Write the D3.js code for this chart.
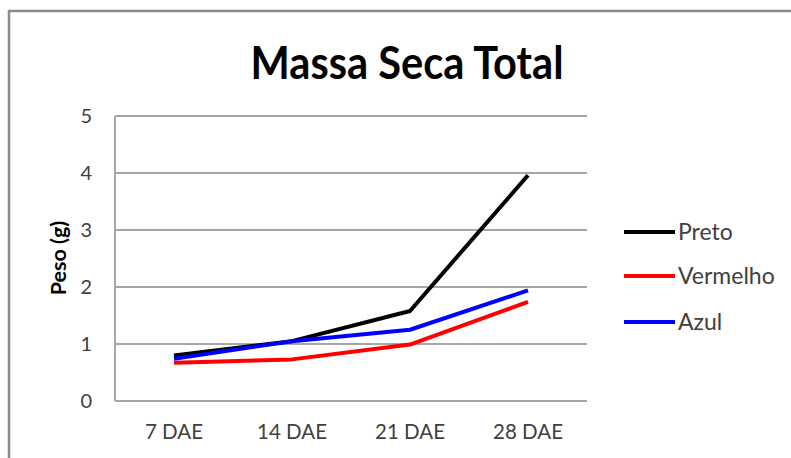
<!DOCTYPE html>
<html><head><meta charset="utf-8">
<script src="https://cdn.jsdelivr.net/npm/d3@7"></script>
<style>body{margin:0;background:#fff}svg{display:block}text{font-family:Lato,"Open Sans",sans-serif}</style>
</head><body>
<script>
const categories = ["7 DAE","14 DAE","21 DAE","28 DAE"];
const preto = [0.8, 1.05, 1.58, 3.96];
const vermelho = [0.67, 0.73, 0.99, 1.74];
const azul = [0.74, 1.05, 1.25, 1.94];
const seriesNames = ["Preto","Vermelho","Azul"];
const seriesColors = ["#000000","#ff0000","#0000ff"];
const yTicks = [0,1,2,3,4,5];

const W=791,H=458;
const svg=d3.select("body").append("svg").attr("width",W).attr("height",H);
svg.append("rect").attr("x",9).attr("y",11).attr("width",W).attr("height",H).attr("fill","#fff").attr("stroke","#8a8a8a").attr("stroke-width",2.5);

const m={l:115,r:587,t:116,b:401};
const x=d3.scaleBand().domain(categories).range([m.l,m.r]);
const y=d3.scaleLinear().domain([0,5]).range([m.b,m.t]);

const g=svg.append("g");
g.selectAll("line.grid").data(yTicks).join("line").attr("class","grid")
 .attr("x1",m.l).attr("x2",m.r).attr("y1",d=>y(d)).attr("y2",d=>y(d))
 .attr("stroke","#a6a6a6").attr("stroke-width",2);
g.append("line").attr("x1",m.l).attr("x2",m.l).attr("y1",m.t).attr("y2",m.b).attr("stroke","#a6a6a6").attr("stroke-width",2);

const ya=svg.append("g").attr("transform",`translate(${m.l},0)`).call(d3.axisLeft(y).tickValues(yTicks).tickSize(0).tickPadding(23).tickFormat(d3.format("d")));
ya.select(".domain").remove();
ya.selectAll("text").attr("font-size",20).attr("fill","#404040").attr("font-family","Lato,sans-serif");

const xa=svg.append("g").attr("transform",`translate(0,${m.b})`).call(d3.axisBottom(x).tickSize(0).tickPadding(23));
xa.select(".domain").remove();
xa.selectAll("text").attr("font-size",20.5).attr("fill","#404040").attr("font-family","Lato,sans-serif");

const data=[preto,vermelho,azul];
const line=d3.line().x((d,i)=>x(categories[i])+x.bandwidth()/2).y(d=>y(d));
svg.selectAll("path.s").data(data).join("path").attr("class","s")
 .attr("d",d=>line(d)).attr("fill","none").attr("stroke",(d,i)=>seriesColors[i]).attr("stroke-width",4).attr("stroke-linejoin","round");

svg.append("text").attr("x",407).attr("y",79).attr("text-anchor","middle").attr("font-size",46).attr("font-weight","bold").attr("fill","#000")
 .attr("textLength",313).attr("lengthAdjust","spacingAndGlyphs").text("Massa Seca Total");
svg.append("text").attr("transform","translate(66,258) rotate(-90)").attr("text-anchor","middle").attr("font-size",21.5).attr("font-weight","bold").attr("fill","#000").text("Peso (g)");

const legY=[232,276,322];
const lg=svg.selectAll("g.leg").data(seriesNames).join("g").attr("class","leg").attr("transform",(d,i)=>`translate(624,${legY[i]})`);
lg.append("line").attr("x1",0).attr("x2",51).attr("stroke",(d,i)=>seriesColors[i]).attr("stroke-width",4);
lg.append("text").attr("x",54).attr("y",8).attr("font-size",23).attr("fill","#404040").text(d=>d);
</script>
</body></html>
